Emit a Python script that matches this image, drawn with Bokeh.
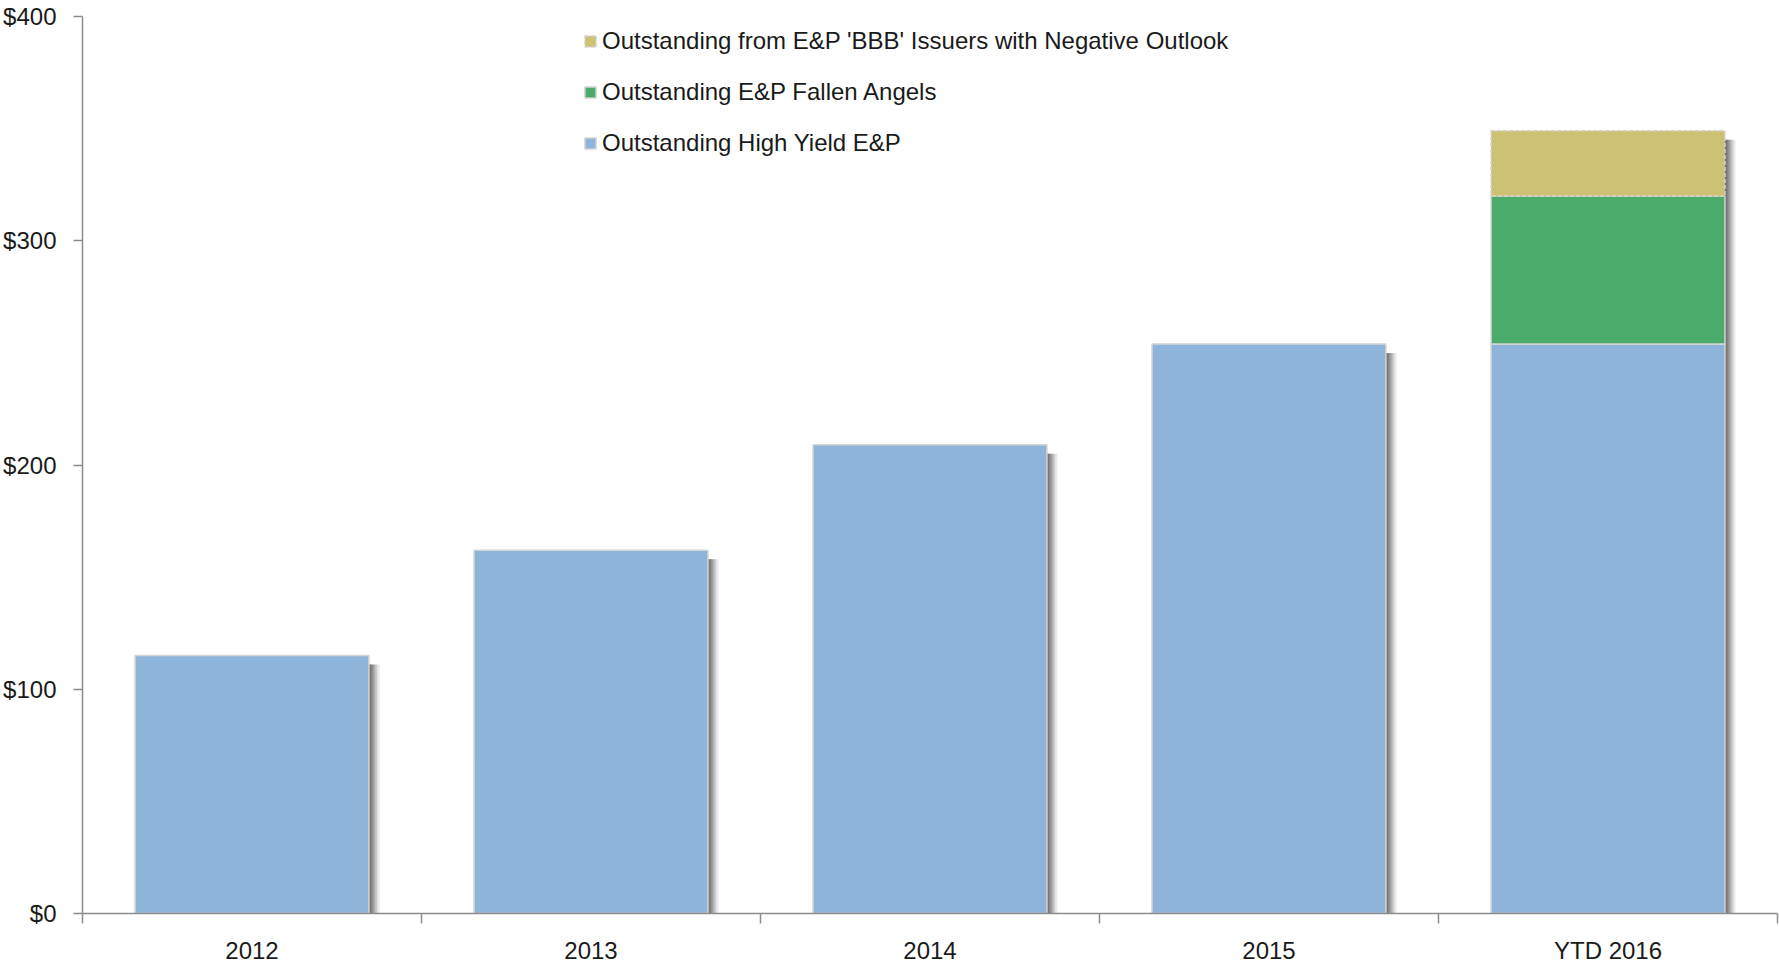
from bokeh.plotting import figure
from bokeh.models import (ColumnDataSource, FixedTicker, Range1d, Legend, LegendItem, LinearAxis)
from bokeh.transform import dodge
from bokeh.embed import file_html
from bokeh.resources import INLINE

# ---- data ----
categories = ["2012", "2013", "2014", "2015", "YTD 2016"]
high_yield = [115, 162, 209, 254, 254]
fallen_angels = [0, 0, 0, 0, 66]
bbb_negative = [0, 0, 0, 0, 29]
y_ticks = [0, 100, 200, 300, 400]
y_tick_labels = ["$0", "$100", "$200", "$300", "$400"]

FONT = "Liberation Sans"
BLUE = "#8fb4da"
GREEN = "#4aab6a"
TAN = "#cdc173"
EDGE = "#d4d4d4"

xpos = [i + 0.5 for i in range(len(categories))]
hy_top = high_yield
fa_top = [a + b for a, b in zip(high_yield, fallen_angels)]
total = [a + b + c for a, b, c in zip(high_yield, fallen_angels, bbb_negative)]

src = ColumnDataSource(dict(x=xpos, cat=categories, hy=hy_top, total=total))
src_fa = ColumnDataSource(dict(x=xpos[-1:], bottom=hy_top[-1:], top=fa_top[-1:]))
src_bbb = ColumnDataSource(dict(x=xpos[-1:], bottom=fa_top[-1:], top=total[-1:]))

p = figure(width=1779, height=966, output_backend="svg", toolbar_location=None,
           x_range=Range1d(0, 5), y_range=Range1d(0, 400),
           min_border_left=81, min_border_right=2, min_border_top=16, min_border_bottom=53,
           x_axis_type=None, y_axis_type=None)
p.grid.visible = False
p.outline_line_color = None
p.background_fill_color = "white"
p.border_fill_color = "white"

W = 0.69
# drop shadow (soft gray at right/bottom)
for i, a in enumerate([0.30, 0.28, 0.24, 0.20, 0.15, 0.10, 0.06]):
    off = (i + 1) * 1.6 / 339.0
    p.vbar(x=dodge("x", off), width=W, top=dodge("total", -4.0), bottom=-0.7,
           source=src, fill_color="#4a4a4a", fill_alpha=a, line_color=None)

r_hy = p.vbar(x="x", width=W, top="hy", bottom=0, source=src,
              fill_color=BLUE, line_color=EDGE, line_width=1.5)
r_fa = p.vbar(x="x", width=W, top="top", bottom="bottom", source=src_fa,
              fill_color=GREEN, line_color=EDGE, line_width=1.5)
r_bbb = p.vbar(x="x", width=W, top="top", bottom="bottom", source=src_bbb,
               fill_color=TAN, line_color=EDGE, line_width=1.5, line_dash="4 2")

# y axis
yax = LinearAxis(ticker=FixedTicker(ticks=y_ticks),
                 major_label_overrides={t: l for t, l in zip(y_ticks, y_tick_labels)})
yax.axis_line_color = "#8c8c8c"
yax.axis_line_width = 1.5
yax.major_tick_line_color = "#8c8c8c"
yax.major_tick_line_width = 1.5
yax.major_tick_out = 9
yax.major_tick_in = 0
yax.minor_tick_line_color = None
yax.major_label_standoff = 17
yax.major_label_text_font = FONT
yax.major_label_text_font_size = "24px"
yax.major_label_text_color = "#1a1a1a"
p.add_layout(yax, "left")

# x axis: labels at centres, tick marks at category boundaries
xax = LinearAxis(ticker=FixedTicker(ticks=xpos, minor_ticks=list(range(len(categories) + 1))),
                 major_label_overrides={x: c for x, c in zip(xpos, categories)})
xax.axis_line_color = "#8c8c8c"
xax.axis_line_width = 1.5
xax.major_tick_line_color = None
xax.major_tick_out = 0
xax.major_tick_in = 0
xax.minor_tick_line_color = "#8c8c8c"
xax.minor_tick_line_width = 1.5
xax.minor_tick_out = 10
xax.minor_tick_in = 0
xax.major_label_standoff = 13
xax.major_label_text_font = FONT
xax.major_label_text_font_size = "24px"
xax.major_label_text_color = "#1a1a1a"
p.add_layout(xax, "below")

legend = Legend(items=[
    LegendItem(label="Outstanding from E&P 'BBB' Issuers with Negative Outlook", renderers=[r_bbb]),
    LegendItem(label="Outstanding E&P Fallen Angels", renderers=[r_fa]),
    LegendItem(label="Outstanding High Yield E&P", renderers=[r_hy]),
], location=(501, 755))
legend.padding = 0
legend.margin = 0
legend.border_line_color = None
legend.background_fill_alpha = 0
legend.glyph_width = 14
legend.glyph_height = 14
legend.label_height = 30
legend.spacing = 21
legend.label_standoff = 5
legend.label_text_font = FONT
legend.label_text_font_size = "24px"
legend.label_text_color = "#1a1a1a"
legend.label_text_baseline = "middle"
p.add_layout(legend, "center")

open("out.html", "w").write(file_html(p, INLINE))
